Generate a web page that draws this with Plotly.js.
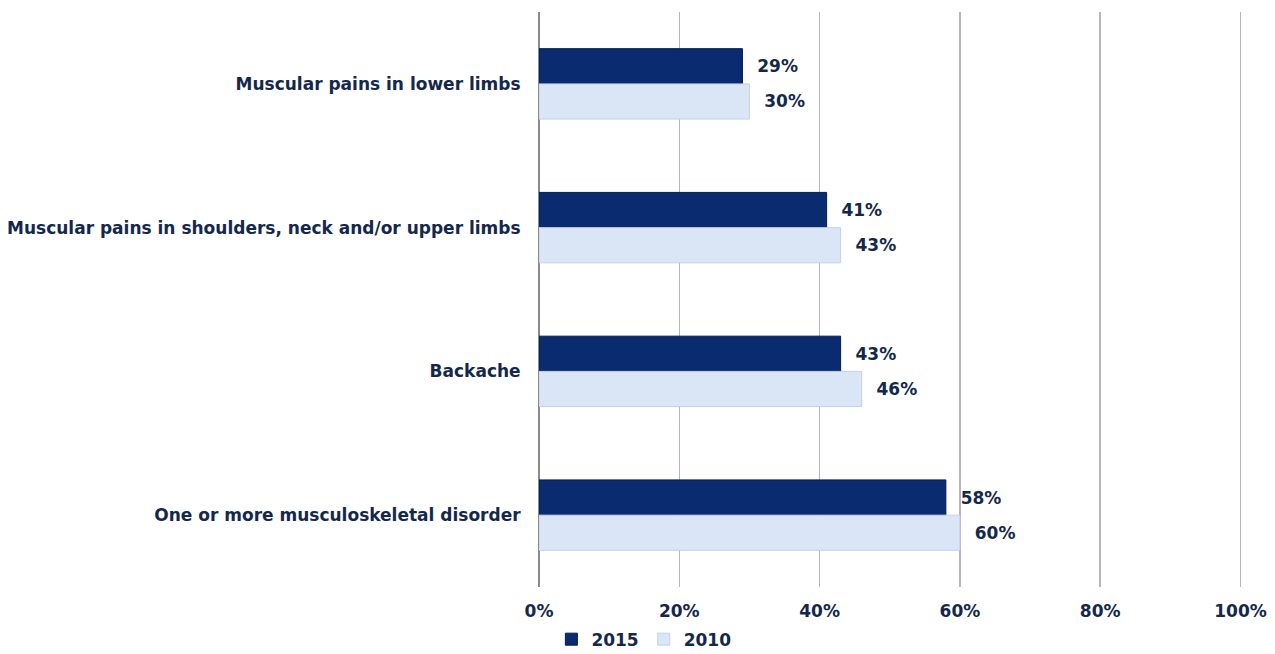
<!DOCTYPE html>
<html>
<head>
<meta charset="utf-8">
<script src="https://cdn.plot.ly/plotly-3.0.1.min.js"></script>
<style>html,body{margin:0;padding:0;background:#fff;}#chart{width:1275px;height:654px;}</style>
</head>
<body>
<div id="chart"></div>
<script>
const categories = [
  "Muscular pains in lower limbs",
  "Muscular pains in shoulders, neck and/or upper limbs",
  "Backache",
  "One or more musculoskeletal disorder"
];
const values2015 = [29, 41, 43, 58];
const values2010 = [30, 43, 46, 60];
const labels2015 = ["29%", "41%", "43%", "58%"];
const labels2010 = ["30%", "43%", "46%", "60%"];
const seriesNames = ["2015", "2010"];
const xTickValues = [0, 20, 40, 60, 80, 100];
const xTickLabels = ["0%", "20%", "40%", "60%", "80%", "100%"];

const textColor = "#14284b";
const fontFam = "DejaVu Sans, Verdana, sans-serif";
const fsize = 17;

const traces = [
  {
    type: "bar", orientation: "h", name: seriesNames[0],
    y: categories, x: values2015, text: labels2015,
    marker: {color: "#0b2b70", line: {color: "#061c4a", width: 1}},
    texttemplate: "\u00a0\u00a0%{text}", textposition: "outside", constraintext: "none",
    textfont: {family: fontFam, size: fsize, color: textColor, weight: "bold"},
    cliponaxis: false, hoverinfo: "skip"
  },
  {
    type: "bar", orientation: "h", name: seriesNames[1],
    y: categories, x: values2010, text: labels2010,
    marker: {color: "#dae5f6", line: {color: "#c3d2ea", width: 1}},
    texttemplate: "\u00a0\u00a0%{text}", textposition: "outside", constraintext: "none",
    textfont: {family: fontFam, size: fsize, color: textColor, weight: "bold"},
    cliponaxis: false, hoverinfo: "skip"
  }
];

const layout = {
  width: 1275, height: 654,
  paper_bgcolor: "#ffffff", plot_bgcolor: "#ffffff",
  margin: {l: 539, r: 31, t: 12, b: 67, autoexpand: false},
  barmode: "group", bargap: 0.51, bargroupgap: 0,
  font: {family: fontFam, color: textColor, size: fsize, weight: "bold"},
  xaxis: {
    range: [0, 100.5], tickvals: xTickValues, ticktext: xTickLabels,
    showgrid: true, gridcolor: "#b4b4c0", gridwidth: 1.5,
    zeroline: true, zerolinecolor: "#8a8a8a", zerolinewidth: 1.5,
    showline: false, ticks: "outside", ticklen: 9, tickcolor: "rgba(0,0,0,0)",
    tickfont: {family: fontFam, size: fsize, color: textColor, weight: "bold"},
    automargin: false, fixedrange: true
  },
  yaxis: {
    autorange: "reversed", type: "category",
    showgrid: false, zeroline: false, showline: false,
    ticks: "outside", ticklen: 14, tickcolor: "rgba(0,0,0,0)",
    tickfont: {family: fontFam, size: fsize, color: textColor, weight: "bold"},
    automargin: false, fixedrange: true
  },
  showlegend: true,
  legend: {
    orientation: "h", xref: "container", yref: "container",
    x: 0.505, xanchor: "center", y: 0.022, yanchor: "middle",
    font: {family: fontFam, size: fsize, color: textColor, weight: "bold"},
    itemwidth: 30, tracegroupgap: 0
  }
};

Plotly.newPlot("chart", traces, layout, {displayModeBar: false, staticPlot: true});
</script>
</body>
</html>
